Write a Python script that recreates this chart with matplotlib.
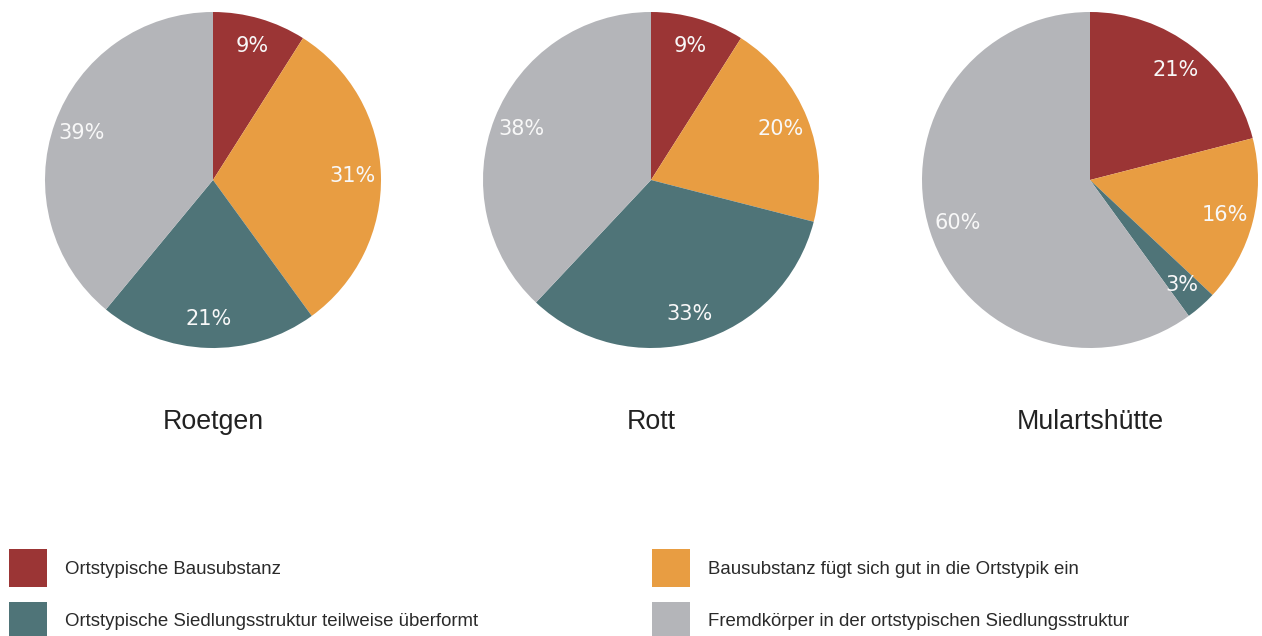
import matplotlib.pyplot as plt
from matplotlib.patches import Rectangle

# dados
orte = ['Roetgen', 'Rott', 'Mulartshütte']
kategorien = ['Ortstypische Bausubstanz',
              'Bausubstanz fügt sich gut in die Ortstypik ein',
              'Ortstypische Siedlungsstruktur teilweise überformt',
              'Fremdkörper in der ortstypischen Siedlungsstruktur']
roetgen = [9, 31, 21, 39]
rott = [9, 20, 33, 38]
mulartshuette = [21, 16, 3, 60]
werte = [roetgen, rott, mulartshuette]

farben = ['#9b3535', '#e89d42', '#4f7478', '#b4b5b9']

W, H = 1262, 636
fig = plt.figure(figsize=(W / 100, H / 100), dpi=100)
plt.rcParams['font.family'] = ['Liberation Sans', 'DejaVu Sans']

centros = [213, 651, 1090]
cy, r = 180, 168

for ort, vals, cx in zip(orte, werte, centros):
    ax = fig.add_axes([(cx - r) / W, (H - cy - r) / H, 2 * r / W, 2 * r / H])
    wedges, texts, autotexts = ax.pie(
        vals, colors=farben, startangle=90, counterclock=False,
        autopct='%d%%', pctdistance=0.83, radius=1,
        wedgeprops=dict(linewidth=0))
    for t in autotexts:
        t.set_color('#f8f8f8')
        t.set_fontsize(15)
        t.set_family(['DejaVu Sans'])
    ax.set_xlim(-1, 1)
    ax.set_ylim(-1, 1)
    ax.set_aspect('equal')
    fig.text(cx / W, 1 - 422 / H, ort, ha='center', va='center', fontsize=19.3, color='#222222')

# legenda manual
lax = fig.add_axes([0, 0, 1, 1])
lax.set_xlim(0, W)
lax.set_ylim(H, 0)
lax.axis('off')
posicoes = [(9, 549), (652, 549), (9, 602), (652, 602)]
for i, (x, y) in enumerate(posicoes):
    lax.add_patch(Rectangle((x, y), 38, 38, facecolor=farben[i], edgecolor='none'))
    lax.text(x + 56, y + 20, kategorien[i], va='center', ha='left', fontsize=13.4, color='#2a2a2a')

fig.savefig('out.png', dpi=100, facecolor='white')
